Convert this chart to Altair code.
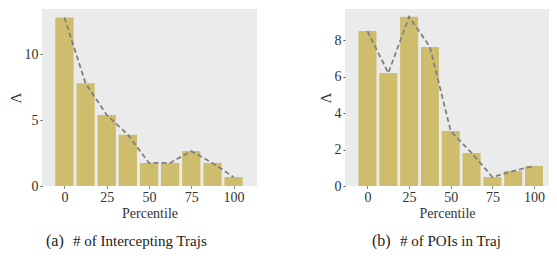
import altair as alt
import pandas as pd

percentiles = [0, 12.5, 25, 37.5, 50, 62.5, 75, 87.5, 100]
intercepting_vals = [12.8, 7.8, 5.4, 3.9, 1.75, 1.75, 2.65, 1.75, 0.68]
poi_vals = [8.49, 6.19, 9.28, 7.62, 3.01, 1.81, 0.49, 0.82, 1.1]
x_ticks = [0, 25, 50, 75, 100]
a_yticks = [0, 5, 10]
b_yticks = [0, 2, 4, 6, 8]

BAR = "#cdbd6c"
BG = "#ebebeb"
FONT = "Liberation Serif"


def panel(vals, ymax, yticks, xmin, xmax, width, barsize, tag, caption, tag_x, cap_x):
    df = pd.DataFrame({"p": percentiles, "v": vals})
    x = alt.X("p:Q", scale=alt.Scale(domain=[xmin, xmax], nice=False, zero=False),
              axis=alt.Axis(values=x_ticks, title="Percentile", format="d"))
    y = alt.Y("v:Q", scale=alt.Scale(domain=[0, ymax], nice=False),
              axis=alt.Axis(values=yticks, title="Λ", format="d"))
    base = alt.Chart(df)
    bars = base.mark_bar(color=BAR, size=barsize).encode(x=x, y=y)
    line = base.mark_line(color="#808080", strokeWidth=1.8, strokeDash=[5, 3]).encode(x="p:Q", y="v:Q")
    cap_df = pd.DataFrame({"t": [tag], "c": [caption]})
    t1 = alt.Chart(cap_df).mark_text(font=FONT, fontSize=16, align="left", baseline="alphabetic",
                                     color="#222222", clip=False).encode(
        x=alt.value(tag_x), y=alt.value(237), text="t:N")
    t2 = alt.Chart(cap_df).mark_text(font=FONT, fontSize=15, align="left", baseline="alphabetic",
                                     color="#222222", clip=False).encode(
        x=alt.value(cap_x), y=alt.value(237), text="c:N")
    return alt.layer(bars, line, t1, t2).properties(width=width, height=177)


pa = panel(intercepting_vals, 13.44, a_yticks, -10.3, 110.9, 215, 18.3,
           "(a)", "# of Intercepting Trajs", 4, 31)
pb = panel(poi_vals, 9.7, b_yticks, -10.5, 106.0, 204, 18.0,
           "(b)", "# of POIs in Traj", 27, 55)

chart = alt.hconcat(pa, pb, spacing=61).properties(
    padding={"left": 0, "top": 1, "right": 0, "bottom": 0}
).configure_view(fill=BG, stroke=None).configure_axis(
    labelFont=FONT, titleFont=FONT, labelFontSize=14, titleFontSize=14,
    labelColor="#333333", titleColor="#333333", grid=False, domain=False,
    tickSize=2, tickColor="#555555", labelPadding=2, titleFontWeight="normal"
).configure_axisY(titlePadding=1, titleFontSize=15).configure_axisX(titlePadding=2)

chart.save("out.html", embed_options={"renderer": "svg", "actions": False})
